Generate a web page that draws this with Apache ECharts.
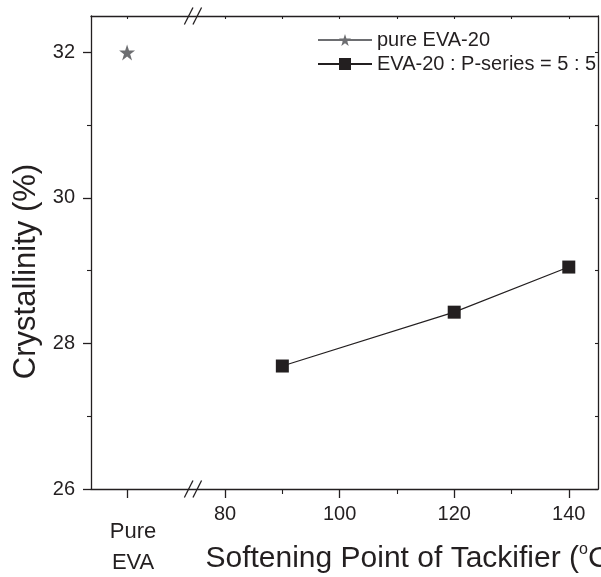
<!DOCTYPE html>
<html>
<head>
<meta charset="utf-8">
<script src="https://cdn.jsdelivr.net/npm/echarts@6/dist/echarts.min.js"></script>
<style>
html,body{margin:0;padding:0;background:#fff;}
#chart{width:601px;height:577px;}
</style>
</head>
<body>
<div id="chart"></div>
<script>
// ---- data ----
const seriesNames = ['pure EVA-20', 'EVA-20 : P-series = 5 : 5'];
const softeningPoints = [90, 120, 140];
const blendCrystallinity = [27.69, 28.43, 29.05];
const pureCrystallinity = [32.0];
const xTickLabels = [80, 100, 120, 140];
const xMinorTicks = [90, 110, 130];
const yTickLabels = [26, 28, 30, 32];
const yMinorTicks = [27, 29, 31];
const pureLabel = ['Pure', 'EVA'];

// ---- layout constants (axis with break) ----
const X_MIN = 56.6, X_MAX = 145.1;
const PURE_X = 62.9;     // position of the "Pure EVA" slot on the broken axis
const BREAK_X = 74.4;    // where the axis break marks are drawn
const Y_MIN = 26, Y_MAX = 32.5;

const INK = '#231f20';
const FONT = 'Liberation Sans, Arial, Helvetica, sans-serif';

const chart = echarts.init(document.getElementById('chart'), null, {renderer: 'canvas'});

const baseX = {
  type: 'value', min: X_MIN, max: X_MAX, gridIndex: 0,
  splitLine: {show: false}
};
const baseY = {
  type: 'value', min: Y_MIN, max: Y_MAX, gridIndex: 0,
  splitLine: {show: false}
};

const option = {
  animation: false,
  backgroundColor: '#fff',
  textStyle: {fontFamily: FONT, color: INK},
  grid: {left: 91, right: 3, top: 16, bottom: 88, containLabel: false, outerBoundsMode: 'none'},
  legend: {
    orient: 'vertical', left: 312, top: 25,
    itemWidth: 54, itemHeight: 15, itemGap: 4,
    textStyle: {fontFamily: FONT, fontSize: 20, color: INK, lineHeight: 20},
    data: seriesNames
  },
  xAxis: [
    Object.assign({}, baseX, {
      position: 'bottom',
      axisLine: {show: true, onZero: false, lineStyle: {color: INK, width: 1.3}},
      axisTick: {show: true, inside: false, length: 9, customValues: [PURE_X].concat(xTickLabels), lineStyle: {color: INK, width: 1.3}},
      axisLabel: {show: true, customValues: xTickLabels, margin: 15, fontSize: 20, color: INK, fontFamily: FONT},
      name: 'Softening Point of Tackifier ({sup|o}C)',
      nameLocation: 'middle', nameGap: 53,
      nameTextStyle: {
        fontFamily: FONT, fontSize: 30, color: INK, lineHeight: 34,
        padding: [0, 0, 0, 136],
        rich: {sup: {fontFamily: FONT, fontSize: 16, color: INK, verticalAlign: 'top', lineHeight: 18}}
      }
    }),
    Object.assign({}, baseX, {
      position: 'bottom',
      axisLine: {show: false, onZero: false},
      axisTick: {show: true, inside: false, length: 5, customValues: xMinorTicks, lineStyle: {color: INK, width: 1.1}},
      axisLabel: {
        show: true, customValues: [PURE_X], margin: 27,
        formatter: function () { return pureLabel.map(function (s) { return '{p|' + s + '}'; }).join('\n'); },
        rich: {p: {fontFamily: FONT, fontSize: 22, lineHeight: 31, color: INK, padding: [0, 0, 0, 12]}}
      }
    }),
    Object.assign({}, baseX, {
      position: 'top',
      axisLine: {show: true, onZero: false, lineStyle: {color: INK, width: 1.3}},
      axisTick: {show: true, inside: true, length: 3, customValues: [PURE_X].concat(xTickLabels, xMinorTicks), lineStyle: {color: INK, width: 1.1}},
      axisLabel: {show: false}
    })
  ],
  yAxis: [
    Object.assign({}, baseY, {
      position: 'left',
      axisLine: {show: true, onZero: false, lineStyle: {color: INK, width: 1.3}},
      axisTick: {show: true, inside: false, length: 8, customValues: yTickLabels, lineStyle: {color: INK, width: 1.3}},
      axisLabel: {show: true, customValues: yTickLabels, margin: 16, fontSize: 20, color: INK, fontFamily: FONT},
      name: 'Crystallinity (%)',
      nameLocation: 'middle', nameGap: 48, nameRotate: 90,
      nameTextStyle: {fontFamily: FONT, fontSize: 31, color: INK, padding: [0, 38, 0, 0]}
    }),
    Object.assign({}, baseY, {
      position: 'left',
      axisLine: {show: false, onZero: false},
      axisTick: {show: true, inside: false, length: 4, customValues: yMinorTicks, lineStyle: {color: INK, width: 1.1}},
      axisLabel: {show: false}
    }),
    Object.assign({}, baseY, {
      position: 'right',
      axisLine: {show: true, onZero: false, lineStyle: {color: INK, width: 1.3}},
      axisTick: {show: true, inside: true, length: 3, customValues: yTickLabels.concat(yMinorTicks), lineStyle: {color: INK, width: 1.1}},
      axisLabel: {show: false}
    })
  ],
  series: [
    {
      name: seriesNames[0], type: 'line', xAxisIndex: 0, yAxisIndex: 0,
      data: pureCrystallinity.map(function (v) { return [PURE_X, v]; }),
      symbol: 'path://M50,0 L61.8,35.3 L99,35.3 L69,57.1 L80.4,92.7 L50,70.9 L19.6,92.7 L31,57.1 L1,35.3 L38.2,35.3 Z',
      symbolSize: 16,
      itemStyle: {color: '#6d6e71'},
      lineStyle: {color: '#6d6e71', width: 1},
      z: 3
    },
    {
      name: seriesNames[1], type: 'line', xAxisIndex: 0, yAxisIndex: 0,
      data: softeningPoints.map(function (x, i) { return [x, blendCrystallinity[i]]; }),
      symbol: 'rect', symbolSize: 13,
      itemStyle: {color: INK},
      lineStyle: {color: INK, width: 1.2},
      z: 3
    }
  ]
};

chart.setOption(option);

// axis break marks "//" on bottom and top axes
function breakMarks() {
  const bx = chart.convertToPixel({xAxisIndex: 0}, BREAK_X);
  const yb = chart.convertToPixel({yAxisIndex: 0}, Y_MIN);
  const yt = chart.convertToPixel({yAxisIndex: 0}, Y_MAX);
  const els = [];
  [yb, yt].forEach(function (y) {
    [-4.3, 4.3].forEach(function (off) {
      els.push({
        type: 'line', z: 100,
        shape: {x1: bx + off - 4.3, y1: y + 8.5, x2: bx + off + 4.3, y2: y - 8.5},
        style: {stroke: INK, lineWidth: 1.3}
      });
    });
  });
  chart.setOption({graphic: els});
}
breakMarks();
</script>
</body>
</html>
